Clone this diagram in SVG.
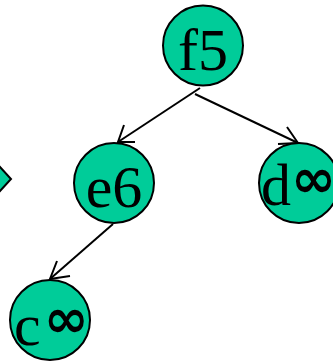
<svg xmlns="http://www.w3.org/2000/svg" width="333" height="363" viewBox="0 0 333 363">
  <style>
    .node circle { fill: #00CC99; stroke: #000; stroke-width: 2; }
    .node text { font-family: "Liberation Serif", "Times New Roman", serif; font-size: 60px; fill: #000; text-anchor: middle; }
    .node text.lead { text-anchor: start; }
    .inf { font-family: "DejaVu Sans", sans-serif; font-weight: bold; font-size: 54px; }
    .edge { stroke: #000; stroke-width: 2; fill: none; }
  </style>
  <rect width="333" height="363" fill="#fff"/>

  <!-- partially visible marker at the left edge -->
  <polygon points="-12,179 0,167 11,179 0,191" fill="#00CC99" stroke="#000" stroke-width="2"/>

  <g id="connectors">
    <line class="edge" x1="200" y1="88" x2="118" y2="142"/>
    <polyline class="edge" points="124,125 118,142 135,142"/>
    <line class="edge" x1="195" y1="94" x2="298" y2="143"/>
    <polyline class="edge" points="287,127 298,143 278,144"/>
    <line class="edge" x1="113" y1="224" x2="50" y2="279"/>
    <polyline class="edge" points="57,261 50,279 70,276"/>
  </g>

  <g id="f5" class="node">
    <circle cx="203" cy="45.5" r="40"/>
    <text x="203" y="70">f5</text>
  </g>
  <g id="e6" class="node">
    <circle cx="114" cy="183" r="40"/>
    <text x="114" y="207">e6</text>
  </g>
  <g id="d" class="node">
    <circle cx="299" cy="183" r="40"/>
    <text class="lead" x="261" y="205">d<tspan class="inf" dx="0" dy="-8">∞</tspan></text>
  </g>
  <g id="c" class="node">
    <circle cx="50" cy="320" r="40"/>
    <text class="lead" x="14" y="345">c<tspan class="inf" dx="3" dy="-8">∞</tspan></text>
  </g>
</svg>
